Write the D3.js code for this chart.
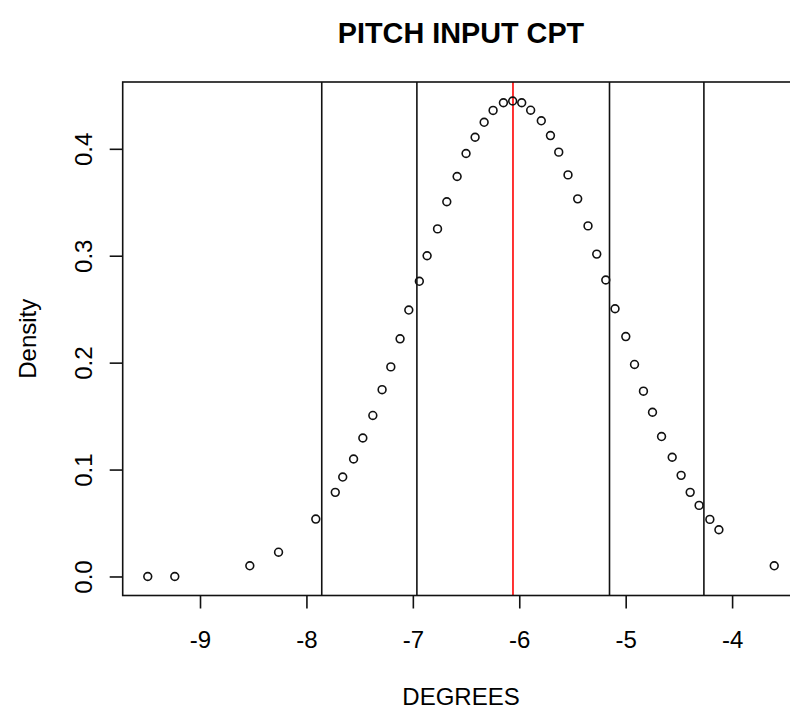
<!DOCTYPE html>
<html>
<head>
<meta charset="utf-8">
<script src="https://cdn.jsdelivr.net/npm/d3@7"></script>
<style>
  html, body { margin: 0; padding: 0; background: #fff; }
  svg { display: block; font-family: "Liberation Sans", Arial, sans-serif; }
</style>
</head>
<body>
<svg id="chart" width="790" height="710"></svg>
<script>
// Pitch input CPT: sampled density values against degrees
const degrees = [
  -9.491, -9.237, -8.532, -8.262, -7.912, -7.729, -7.659, -7.557, -7.470, -7.376,
  -7.289, -7.207, -7.120, -7.038, -6.939, -6.866, -6.768, -6.681, -6.584, -6.500,
  -6.415, -6.330, -6.246, -6.149, -6.062, -5.977, -5.893, -5.793, -5.707, -5.629,
  -5.542, -5.451, -5.354, -5.272, -5.187, -5.100, -4.999, -4.917, -4.833, -4.748,
  -4.663, -4.563, -4.479, -4.394, -4.310, -4.209, -4.124, -3.604
];
const density = [
  0.0000, 0.0000, 0.0100, 0.0227, 0.0537, 0.0787, 0.0930, 0.1099, 0.1295, 0.1506,
  0.1747, 0.1960, 0.2223, 0.2492, 0.2761, 0.3000, 0.3251, 0.3505, 0.3741, 0.3956,
  0.4108, 0.4248, 0.4359, 0.4431, 0.4447, 0.4431, 0.4361, 0.4262, 0.4124, 0.3969,
  0.3756, 0.3532, 0.3279, 0.3015, 0.2773, 0.2504, 0.2244, 0.1983, 0.1733, 0.1536,
  0.1309, 0.1115, 0.0946, 0.0787, 0.0665, 0.0534, 0.0437, 0.0100
];
// interval bounds (black) and centre (red)
const boundLines = [-7.856, -6.962, -5.152, -4.265];
const centreLine = -6.059;

const xTicks = [-9, -8, -7, -6, -5, -4];
const yTicks = [0.0, 0.1, 0.2, 0.3, 0.4];

const titleText = "PITCH INPUT CPT";
const xTitle = "DEGREES";
const yTitle = "Density";

const svg = d3.select("#chart");
const box = { left: 122.7, right: 799.3, top: 82, bottom: 595.5 };
const fontSize = 24;

// extend each data range by 4% on both sides
function padded(ext) {
  const d = (ext[1] - ext[0]) * 0.04;
  return [ext[0] - d, ext[1] + d];
}

const x = d3.scaleLinear().domain(padded(d3.extent(degrees))).range([box.left, box.right]);
const y = d3.scaleLinear().domain(padded(d3.extent(density))).range([box.bottom, box.top]);

const ink = "#111";
const lw = 1.6;

// vertical reference lines
svg.append("g").selectAll("line")
  .data(boundLines)
  .join("line")
  .attr("x1", d => x(d)).attr("x2", d => x(d))
  .attr("y1", box.top).attr("y2", box.bottom)
  .attr("stroke", ink).attr("stroke-width", lw);

svg.append("line")
  .attr("x1", x(centreLine)).attr("x2", x(centreLine))
  .attr("y1", box.top).attr("y2", box.bottom)
  .attr("stroke", "#ff0000").attr("stroke-width", lw);

// points
svg.append("g").selectAll("circle")
  .data(degrees.map((d, i) => [d, density[i]]))
  .join("circle")
  .attr("cx", d => x(d[0]))
  .attr("cy", d => y(d[1]))
  .attr("r", 3.9)
  .attr("fill", "none")
  .attr("stroke", ink)
  .attr("stroke-width", 1.6);

// frame
svg.append("rect")
  .attr("x", box.left).attr("y", box.top)
  .attr("width", box.right - box.left).attr("height", box.bottom - box.top)
  .attr("fill", "none").attr("stroke", ink).attr("stroke-width", lw);

// plain ASCII hyphen for negative tick labels
const intFmt = d => String(d);
const decFmt = d => d.toFixed(1);

// x axis
const gx = svg.append("g")
  .attr("transform", `translate(0,${box.bottom})`)
  .call(d3.axisBottom(x).tickValues(xTicks).tickSize(13).tickPadding(22.5).tickFormat(intFmt));
gx.select(".domain").remove();
gx.selectAll(".tick line").attr("stroke", ink).attr("stroke-width", lw);
gx.selectAll(".tick text")
  .attr("fill", "#000")
  .style("font-size", fontSize + "px")
  .style("font-family", "'Liberation Sans', Arial, sans-serif");

// y axis with labels parallel to the axis
const gy = svg.append("g")
  .attr("transform", `translate(${box.left},0)`)
  .call(d3.axisLeft(y).tickValues(yTicks).tickSize(13).tickFormat(decFmt));
gy.select(".domain").remove();
gy.selectAll(".tick line").attr("stroke", ink).attr("stroke-width", lw);
gy.selectAll(".tick text")
  .attr("x", null).attr("dy", null)
  .attr("transform", "translate(-30.7,0) rotate(-90)")
  .attr("text-anchor", "middle")
  .attr("fill", "#000")
  .style("font-size", fontSize + "px")
  .style("font-family", "'Liberation Sans', Arial, sans-serif");

const midX = (box.left + box.right) / 2;
const midY = (box.top + box.bottom) / 2;

// titles
svg.append("text")
  .attr("x", midX).attr("y", 43)
  .attr("text-anchor", "middle")
  .attr("font-weight", "bold")
  .attr("font-size", 28.8)
  .attr("fill", "#000")
  .text(titleText);

svg.append("text")
  .attr("x", midX).attr("y", 705)
  .attr("text-anchor", "middle")
  .attr("font-size", fontSize)
  .attr("fill", "#000")
  .text(xTitle);

svg.append("text")
  .attr("transform", `translate(36,${midY}) rotate(-90)`)
  .attr("text-anchor", "middle")
  .attr("font-size", fontSize)
  .attr("fill", "#000")
  .text(yTitle);
</script>
</body>
</html>
